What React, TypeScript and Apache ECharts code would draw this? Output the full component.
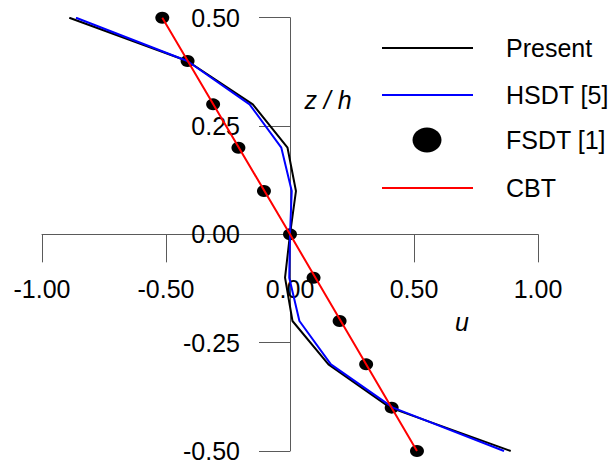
import React, { useEffect, useRef } from "react";
import * as echarts from "echarts";

const zLevels = [0.5, 0.4, 0.3, 0.2, 0.1, 0, -0.1, -0.2, -0.3, -0.4, -0.5];
const presentU = [-0.89, -0.414, -0.15, -0.01, 0.024, 0, -0.02, 0.01, 0.155, 0.404, 0.89];
const hsdtU = [-0.863, -0.414, -0.163, -0.035, 0.007, 0, -0.003, 0.038, 0.165, 0.415, 0.863];
const fsdtU = [-0.515, -0.413, -0.31, -0.208, -0.105, 0, 0.095, 0.2, 0.307, 0.41, 0.512];
const cbtZ = [0.5, 0, -0.5];
const cbtU = [-0.515, 0, 0.512];
const seriesNames = ["Present", "HSDT [5]", "FSDT [1]", "CBT"];
const seriesColors = ["#000000", "#0000ff", "#000000", "#ff0000"];

const FONT = 'Arial, "Liberation Sans", sans-serif';
const FS = 25;

const GRID_L = 42, GRID_R = 77, GRID_T = 17.7, GRID_B = 12;
const W = 615, H = 463;

export default function App() {
  const ref = useRef<HTMLDivElement>(null);
  useEffect(() => {
    if (!ref.current) return;
    const chart = echarts.init(ref.current, null, { renderer: "svg" });
    const pair = (us: number[], zs: number[]) => us.map((u, i) => [u, zs[i]]);
    const plotW = W - GRID_L - GRID_R;
    const plotH = H - GRID_T - GRID_B;
    const xAxisOffset = -plotH / 2; // axis crosses at z = 0
    const yAxisOffset = -plotW / 2; // axis crosses at u = 0
    const legendY = [48, 95, 140, 188];
    const legendGraphics: any[] = [];
    seriesNames.forEach((name, i) => {
      if (i === 2) {
        legendGraphics.push({
          type: "ellipse",
          shape: { cx: 427, cy: legendY[i], rx: 14.5, ry: 12.5 },
          style: { fill: seriesColors[i] },
        });
      } else {
        legendGraphics.push({
          type: "line",
          shape: { x1: 382, y1: legendY[i], x2: 473, y2: legendY[i] },
          style: { stroke: seriesColors[i], lineWidth: 2 },
        });
      }
      legendGraphics.push({
        type: "text",
        x: 506,
        y: legendY[i],
        style: {
          text: name,
          fill: "#000",
          font: `${FS}px ${FONT}`,
          verticalAlign: "middle",
        },
      });
    });
    legendGraphics.push({
      type: "text",
      x: 328,
      y: 100,
      style: {
        text: "z / h",
        fill: "#000",
        font: `italic ${FS}px ${FONT}`,
        align: "center",
        verticalAlign: "middle",
      },
    });
    legendGraphics.push({
      type: "text",
      x: 462,
      y: 322,
      style: {
        text: "u",
        fill: "#000",
        font: `italic ${FS}px ${FONT}`,
        align: "center",
        verticalAlign: "middle",
      },
    });

    chart.setOption({
      animation: false,
      backgroundColor: "#ffffff",
      grid: {
        left: GRID_L,
        right: GRID_R,
        top: GRID_T,
        bottom: GRID_B,
        containLabel: false,
        outerBoundsMode: "none",
      },
      xAxis: {
        type: "value",
        min: -1,
        max: 1,
        interval: 0.5,
        position: "bottom",
        offset: xAxisOffset,
        axisLine: { onZero: false, lineStyle: { color: "#5a5a5a", width: 1 } },
        axisTick: { show: true, inside: false, length: 28, lineStyle: { color: "#5a5a5a" } },
        splitLine: { show: false },
        axisLabel: {
          margin: 44,
          color: "#000",
          fontSize: FS,
          lineHeight: 22,
          fontFamily: FONT,
          formatter: (v: number) => v.toFixed(2),
          showMinLabel: true,
          showMaxLabel: true,
        },
      },
      yAxis: {
        type: "value",
        min: -0.5,
        max: 0.5,
        interval: 0.25,
        position: "left",
        offset: yAxisOffset,
        axisLine: { onZero: false, lineStyle: { color: "#5a5a5a", width: 1 } },
        axisTick: { show: true, inside: false, length: 31, lineStyle: { color: "#5a5a5a" } },
        splitLine: { show: false },
        axisLabel: {
          margin: 50,
          color: "#000",
          fontSize: FS,
          lineHeight: 20,
          fontFamily: FONT,
          formatter: (v: number) => v.toFixed(2),
          showMinLabel: true,
          showMaxLabel: true,
        },
      },
      graphic: legendGraphics,
      series: [
        {
          name: seriesNames[0],
          type: "line",
          data: pair(presentU, zLevels),
          showSymbol: false,
          lineStyle: { color: seriesColors[0], width: 2 },
          itemStyle: { color: seriesColors[0] },
        },
        {
          name: seriesNames[1],
          type: "line",
          data: pair(hsdtU, zLevels),
          showSymbol: false,
          lineStyle: { color: seriesColors[1], width: 2 },
          itemStyle: { color: seriesColors[1] },
        },
        {
          name: seriesNames[2],
          type: "scatter",
          data: pair(fsdtU, zLevels),
          symbol: "circle",
          symbolSize: [14, 12],
          itemStyle: { color: seriesColors[2], opacity: 1 },
        },
        {
          name: seriesNames[3],
          type: "line",
          data: pair(cbtU, cbtZ),
          showSymbol: false,
          lineStyle: { color: seriesColors[3], width: 2 },
          itemStyle: { color: seriesColors[3] },
        },
      ],
    });
    return () => chart.dispose();
  }, []);
  return (
    <div
      ref={ref}
      style={{ position: "absolute", left: 0, top: 0, width: W, height: H }}
    />
  );
}
